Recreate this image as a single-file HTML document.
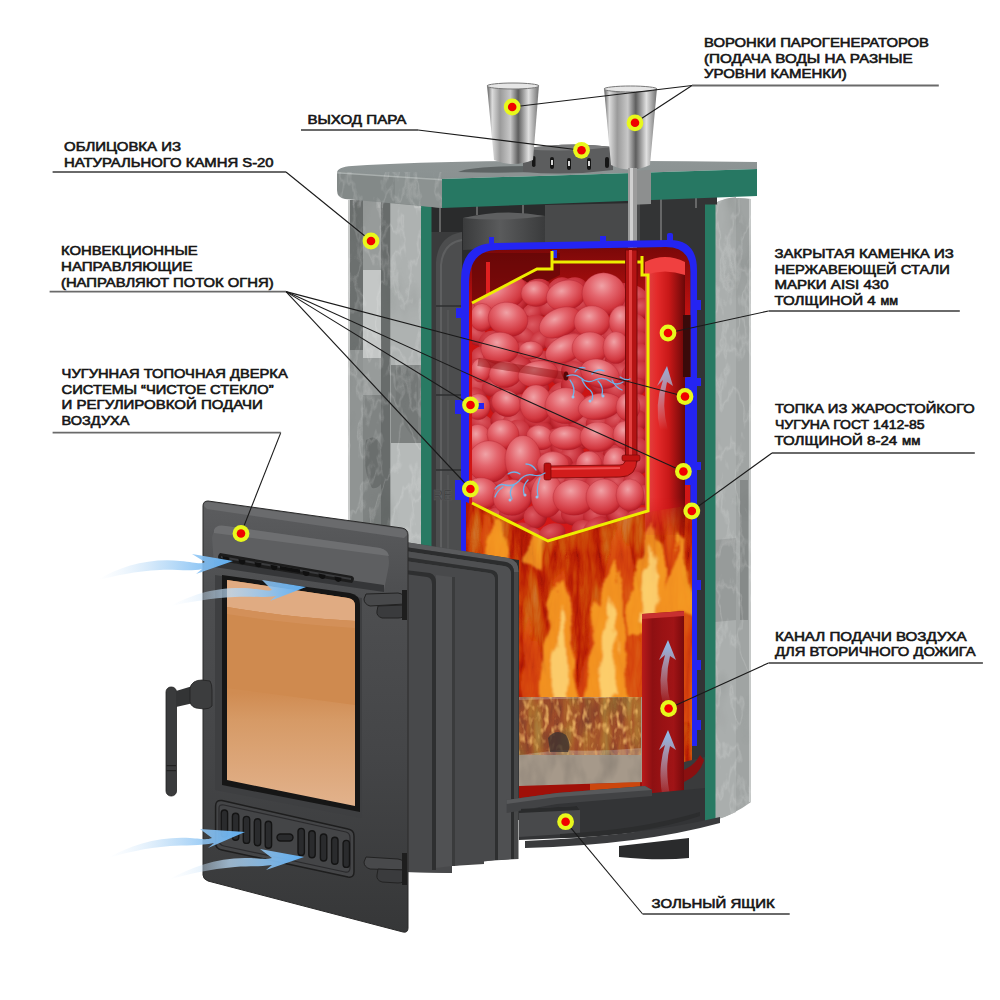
<!DOCTYPE html>
<html><head><meta charset="utf-8"><style>
html,body{margin:0;padding:0;background:#fff;width:1000px;height:1000px;overflow:hidden}
svg{display:block}
.t{font-family:"Liberation Sans",sans-serif;font-weight:normal;font-size:12.9px;fill:#151515;stroke:#151515;stroke-width:0.6px}
</style></head><body>
<svg width="1000" height="1000" viewBox="0 0 1000 1000">
<rect width="1000" height="1000" fill="#fff"/>

<defs>
 <filter id="fire" x="0" y="0" width="100%" height="100%" color-interpolation-filters="sRGB">
  <feTurbulence type="turbulence" baseFrequency="0.045 0.009" numOctaves="4" seed="11" result="n"/>
  <feColorMatrix in="n" type="matrix" values="1.4 0 0 0 0  1.4 0 0 0 0  1.4 0 0 0 0  0 0 0 0 1" result="g"/>
  <feComponentTransfer in="g">
   <feFuncR type="table" tableValues="0.58 0.8 0.93 0.98 1 1"/>
   <feFuncG type="table" tableValues="0.05 0.14 0.36 0.6 0.8 0.92"/>
   <feFuncB type="table" tableValues="0.02 0.02 0.03 0.08 0.25 0.5"/>
  </feComponentTransfer>
 </filter>
 <filter id="grain" x="0" y="0" width="100%" height="100%" color-interpolation-filters="sRGB">
  <feTurbulence type="fractalNoise" baseFrequency="0.04 0.02" numOctaves="3" seed="5"/>
  <feColorMatrix type="matrix" values="0 0 0 0 1  0 0 0 0 1  0 0 0 0 1  1.2 0 0 0 -0.45"/>
 </filter>
 <filter id="grainD" x="0" y="0" width="100%" height="100%" color-interpolation-filters="sRGB">
  <feTurbulence type="fractalNoise" baseFrequency="0.05 0.025" numOctaves="3" seed="9"/>
  <feColorMatrix type="matrix" values="0 0 0 0 0.2  0 0 0 0 0.2  0 0 0 0 0.2  1.4 0 0 0 -0.6"/>
 </filter>
 <filter id="veins" x="0" y="0" width="100%" height="100%" color-interpolation-filters="sRGB">
  <feTurbulence type="fractalNoise" baseFrequency="0.05 0.02" numOctaves="4" seed="21"/>
  <feColorMatrix type="matrix" values="0 0 0 0 1  0 0 0 0 1  0 0 0 0 1  1 0 0 0 0"/>
  <feComponentTransfer><feFuncA type="table" tableValues="0 0 0 0 0 0 0 0 0.85 0 0 0 0 0 0 0"/></feComponentTransfer>
 </filter>
 <filter id="patch" x="0" y="0" width="100%" height="100%" color-interpolation-filters="sRGB">
  <feTurbulence type="fractalNoise" baseFrequency="0.025 0.012" numOctaves="3" seed="8"/>
  <feColorMatrix type="matrix" values="0 0 0 0 0.3  0 0 0 0 0.32  0 0 0 0 0.31  1 0 0 0 0"/>
  <feComponentTransfer><feFuncA type="table" tableValues="0 0 0 0 0 0.15 0.45 0.55"/></feComponentTransfer>
 </filter>
 <filter id="wavy" filterUnits="userSpaceOnUse" x="440" y="470" width="280" height="350">
  <feTurbulence type="turbulence" baseFrequency="0.05 0.02" numOctaves="2" seed="3" result="t"/>
  <feDisplacementMap in="SourceGraphic" in2="t" scale="14" xChannelSelector="R" yChannelSelector="G" result="d"/>
  <feGaussianBlur in="d" stdDeviation="0.9"/>
 </filter>
 <filter id="logspots" x="0" y="0" width="100%" height="100%" color-interpolation-filters="sRGB">
  <feTurbulence type="fractalNoise" baseFrequency="0.18 0.09" numOctaves="2" seed="13"/>
  <feColorMatrix type="matrix" values="0 0 0 0 1  0 0 0 0 0.8  0 0 0 0 0.45  3 0 0 0 -1.5"/>
 </filter>
 <filter id="blur2" x="-10%" y="-10%" width="120%" height="120%"><feGaussianBlur stdDeviation="2.5"/></filter>
 <filter id="blur15" x="-10%" y="-10%" width="120%" height="120%"><feGaussianBlur stdDeviation="1.5"/></filter>
 <linearGradient id="slabTop" x1="0" x2="0" y1="0" y2="1">
  <stop offset="0" stop-color="#8e9595"/><stop offset="1" stop-color="#8a9191"/>
 </linearGradient>
 <linearGradient id="glass2" x1="0" x2="0" y1="0" y2="1">
  <stop offset="0" stop-color="#cf8a4f"/><stop offset="0.5" stop-color="#d08c52"/><stop offset="0.62" stop-color="#d69a66"/><stop offset="1" stop-color="#e2b28c"/>
 </linearGradient>
 <linearGradient id="glass" x1="0" x2="0" y1="0" y2="1">
  <stop offset="0" stop-color="#e2ad88"/><stop offset="0.1" stop-color="#e0a67c"/><stop offset="0.2" stop-color="#d08a52"/>
  <stop offset="0.52" stop-color="#cf8a4e"/><stop offset="0.62" stop-color="#dba070"/><stop offset="1" stop-color="#e2b28c"/>
 </linearGradient>
 <linearGradient id="funnel" x1="0" x2="1" y1="0" y2="0">
  <stop offset="0" stop-color="#5a5a5a"/><stop offset="0.1" stop-color="#dcdcdc"/><stop offset="0.25" stop-color="#9a9a9a"/>
  <stop offset="0.45" stop-color="#c8c8c8"/><stop offset="0.6" stop-color="#5e5e5e"/><stop offset="0.8" stop-color="#e0e0e0"/><stop offset="1" stop-color="#707070"/>
 </linearGradient>
 <linearGradient id="redch" x1="0" x2="1" y1="0" y2="0">
  <stop offset="0" stop-color="#b81a1a"/><stop offset="0.25" stop-color="#8e1012"/><stop offset="0.5" stop-color="#9a1214"/><stop offset="0.75" stop-color="#a01416"/><stop offset="1" stop-color="#780a0c"/>
 </linearGradient>
 <linearGradient id="pipeR" x1="0" x2="1" y1="0" y2="0">
  <stop offset="0" stop-color="#e04848"/><stop offset="0.3" stop-color="#e42a2a"/><stop offset="0.6" stop-color="#c81818"/><stop offset="1" stop-color="#6a0808"/>
 </linearGradient>
 <linearGradient id="arrow" x1="0" x2="1" y1="0" y2="0">
  <stop offset="0" stop-color="#dcecfb" stop-opacity="0"/><stop offset="0.45" stop-color="#b8daf7" stop-opacity="0.75"/><stop offset="1" stop-color="#5eaef2" stop-opacity="1"/>
 </linearGradient>
 <linearGradient id="arrowUp" x1="0" x2="0" y1="1" y2="0">
  <stop offset="0" stop-color="#dcecfb" stop-opacity="0"/><stop offset="1" stop-color="#8cc0f0" stop-opacity="1"/>
 </linearGradient>
 <radialGradient id="stone" cx="0.42" cy="0.32" r="0.7">
  <stop offset="0" stop-color="#f0a2a6"/><stop offset="0.4" stop-color="#e4666e"/><stop offset="0.8" stop-color="#d23840"/><stop offset="1" stop-color="#b41822"/>
 </radialGradient>
 <radialGradient id="stone2" cx="0.45" cy="0.35" r="0.7">
  <stop offset="0" stop-color="#dc5a62"/><stop offset="0.6" stop-color="#c8303a"/><stop offset="1" stop-color="#a01018"/>
 </radialGradient>
 <linearGradient id="redbg" x1="0" x2="0" y1="0" y2="1">
  <stop offset="0" stop-color="#7a0808"/><stop offset="0.25" stop-color="#c81212"/><stop offset="1" stop-color="#d41818"/>
 </linearGradient>
 <linearGradient id="tankL" x1="0" x2="1" y1="0" y2="0">
  <stop offset="0" stop-color="#2a2b2c"/><stop offset="0.5" stop-color="#4a4b4c"/><stop offset="1" stop-color="#333435"/>
 </linearGradient>
 <linearGradient id="lid" x1="0" x2="1" y1="0" y2="0">
  <stop offset="0" stop-color="#3a3b3c"/><stop offset="0.45" stop-color="#5a5b5c"/><stop offset="1" stop-color="#3a3b3c"/>
 </linearGradient>
 <linearGradient id="doorV" x1="0" x2="0" y1="0" y2="1">
  <stop offset="0" stop-color="#5c5d5f"/><stop offset="0.2" stop-color="#4e4f51"/><stop offset="0.6" stop-color="#444547"/><stop offset="1" stop-color="#363738"/>
 </linearGradient>
 <linearGradient id="doorG" x1="0" x2="1" y1="0" y2="1">
  <stop offset="0" stop-color="#46474a"/><stop offset="1" stop-color="#3c3d3f"/>
 </linearGradient>
 <clipPath id="flameClip"><path d="M466,502 L548,541 L654,511 L692,505 L692,800 L519,800 L519,560 L466,552 Z"/></clipPath>
 <linearGradient id="fadeDown" x1="0" x2="0" y1="0" y2="1"><stop offset="0" stop-color="#fff"/><stop offset="0.85" stop-color="#fff"/><stop offset="1" stop-color="#000"/></linearGradient>
 <mask id="pipeMask"><rect x="640" y="255" width="50" height="285" fill="url(#fadeDown)"/></mask>
 <clipPath id="basketClip"><path d="M472,303 L537,269 L552,269 L552,262 L648,262 L648,511 L548,541 L472,503 Z"/></clipPath>
 <clipPath id="tankClip"><path d="M469,282 Q469,250 496,250 L666,247 Q690.5,247 690.5,272 L690.5,540 L469,540 Z"/></clipPath>
</defs>

<!-- ===== right stone column ===== -->
<path d="M715,203 Q730,196 751,199 L751,802 Q735,814 715,820 Z" fill="#a0a4a3"/>
<path d="M715,203 Q725,198 736,197 L736,812 Q726,817 715,820 Z" fill="#aaaead"/>
<path d="M715,540 L736,538 L736,620 L715,622 Z" fill="#979b9a"/>
<path d="M740,480 L748,480 L748,620 L740,620 Z" fill="#868a89"/>
<rect x="749" y="199" width="2" height="603" fill="#c5c8c7"/>
<path d="M715,203 Q730,196 751,199 L751,802 Q735,814 715,820 Z" filter="url(#patch)" opacity="0.4"/>
<path d="M715,203 Q730,196 751,199 L751,802 Q735,814 715,820 Z" filter="url(#veins)" opacity="0.16"/>
<rect x="705" y="204" width="10.5" height="618" fill="#287a63"/>

<!-- ===== dark interior ===== -->
<rect x="431" y="195" width="274" height="625" fill="#2a2b2c"/>
<rect x="640" y="196" width="65" height="604" fill="#333435"/>
<rect x="705" y="195" width="12" height="9.5" fill="#333435"/>
<!-- mesh lines -->
<g stroke="#8a8a8a" stroke-width="1.2"><line x1="440" y1="207" x2="440" y2="238"/><line x1="477" y1="205" x2="477" y2="215"/><line x1="523" y1="205" x2="523" y2="215"/><line x1="661" y1="198" x2="661" y2="285"/><line x1="696" y1="198" x2="696" y2="208"/></g>
<!-- tank grey bodies -->
<path d="M431,232 L462,232 L462,552 L431,552 Z" fill="#3a3b3c"/>
<path d="M436,552 L436,262 Q438,236 462,232 L462,552 Z" fill="#4c4d4e"/>
<path d="M441,552 L441,265 Q443,243 462,240" fill="none" stroke="#5e5f60" stroke-width="2"/>
<g stroke="#2e2f30" stroke-width="1.5"><line x1="436" y1="306" x2="462" y2="306"/><line x1="436" y1="395" x2="462" y2="395"/><line x1="436" y1="470" x2="462" y2="470"/></g>
<g stroke="#5a5b5c" stroke-width="1.2"><line x1="448" y1="310" x2="448" y2="392"/><line x1="448" y1="400" x2="448" y2="466"/><line x1="448" y1="475" x2="448" y2="550"/></g>
<text x="433" y="500" font-family="Liberation Sans" font-size="14" fill="#3c3d3e" stroke="#5a5b5c" stroke-width="0.5">RE</text>
<path d="M545,205 L640,203 L640,246 L545,250 Z" fill="#48494a"/>
<path d="M463,218 Q504,210 545,216 L545,246 L463,250 Z" fill="url(#lid)"/>
<path d="M463,218 Q504,208 545,216 Q504,222 463,218 Z" fill="#5e5f60"/>

<!-- ===== left stone column ===== -->
<rect x="348" y="200" width="74" height="345" fill="#9a9e9d"/>
<rect x="348" y="200" width="2" height="345" fill="#c8cac9"/>
<rect x="350" y="200" width="13" height="345" fill="#6c706f"/>
<rect x="350" y="350" width="13" height="195" fill="#909493"/>
<rect x="363" y="200" width="18" height="345" fill="#979b9a"/>
<rect x="363" y="270" width="18" height="88" fill="#c4c7c6"/>
<rect x="363" y="395" width="27" height="150" fill="#7f8382"/>
<path d="M366,440 Q380,430 384,460 Q386,490 372,488 Q362,470 366,440 Z" fill="#6a6e6d"/>
<rect x="381" y="200" width="9" height="345" fill="#686c6b"/>
<rect x="391" y="200" width="30" height="345" fill="#aeb2b1"/>
<rect x="391" y="365" width="30" height="80" fill="#7c807f"/>
<path d="M395,370 Q405,360 418,372 L418,440 Q402,430 396,400 Z" fill="#747877"/>
<rect x="391" y="443" width="30" height="102" fill="#b6bab9"/>
<rect x="348" y="200" width="74" height="345" filter="url(#patch)" opacity="0.3"/>
<rect x="348" y="200" width="74" height="345" filter="url(#veins)" opacity="0.16"/>
<rect x="421" y="206" width="10.5" height="350" fill="#287a63"/>

<!-- ===== top slab ===== -->
<path d="M337,173 Q337,167 352,166 Q470,158 757,162 L757,169 L442,179 L337,176 Z" fill="url(#slabTop)"/>
<path d="M337,172 L442,179 L442,208 L345,199 Q337,198 337,190 Z" fill="#838988"/>
<path d="M395,176 L442,179 L442,208 L395,203 Z" fill="#8c9291"/>
<path d="M337,172 L442,179 L442,180.5 L337,173.5 Z" fill="#a9afae"/>
<path d="M337,172 L442,179 L442,208 L345,199 Q337,198 337,190 Z" filter="url(#veins)" opacity="0.16"/>
<path d="M442,179 L757,169 L757,196 L442,208 Z" fill="#277863"/>
<path d="M628,171 L651,170 L651,204 L628,205 Z" fill="#8d8f8f"/>
<!-- hole ring on top -->
<path d="M458,172 Q470,166 530,166 Q560,167 560,170 Q520,174 458,172 Z" fill="#5e6464"/>

<!-- ===== steam ring ===== -->
<path d="M523,149 Q568,141 613,147 L613,170 Q568,176 523,172 Z" fill="#5c5d5e"/>
<path d="M523,149 Q568,141 613,147 Q568,153 523,149 Z" fill="#7a7b7c"/>
<g fill="#161616"><rect x="532" y="156" width="3.5" height="11" rx="1.7"/><rect x="550" y="157" width="4" height="12" rx="2"/><rect x="567" y="158" width="4" height="12" rx="2"/><rect x="587" y="158" width="4" height="12" rx="2"/><rect x="605" y="157" width="4" height="11" rx="2"/></g>
<g fill="#d8d8d8"><rect x="551" y="160" width="2" height="5"/><rect x="568" y="161" width="2" height="5"/><rect x="588" y="161" width="2" height="5"/></g>

<!-- ===== funnels ===== -->
<path d="M487,85 L539,85 L533,160 Q513,168 494,160 Z" fill="url(#funnel)"/>
<ellipse cx="513" cy="86" rx="26" ry="3" fill="#e6e6e6" stroke="#777" stroke-width="1"/>
<path d="M604,88 L657,88 L650,165 Q630,174 611,165 Z" fill="url(#funnel)"/>
<ellipse cx="630.5" cy="89" rx="26.5" ry="3" fill="#e6e6e6" stroke="#777" stroke-width="1"/>
<rect x="628" y="168" width="9" height="84" fill="#9c9c9c"/>
<rect x="630" y="168" width="3" height="84" fill="#d0d0d0"/>

<!-- ===== tank ===== -->
<path d="M469,282 Q469,250 496,250 L666,247 Q690.5,247 690.5,272 L690.5,540 L469,540 Z" fill="url(#redbg)"/>
<g clip-path="url(#tankClip)">
 <path d="M472,253 L560,253 L560,275 L472,320 Z" fill="#5a0606" opacity="0.6"/>
 <rect x="486" y="262" width="4" height="60" fill="#e02020"/>
 <g clip-path="url(#basketClip)"><g fill="url(#stone2)">
<ellipse cx="477.0" cy="293.0" rx="13.2" ry="9.6" transform="rotate(-16 477.0 293.0)"/>
<ellipse cx="501.8" cy="287.4" rx="11.2" ry="11.5" transform="rotate(-18 501.8 287.4)"/>
<ellipse cx="518.4" cy="291.7" rx="12.7" ry="13.0" transform="rotate(-24 518.4 291.7)"/>
<ellipse cx="537.0" cy="289.0" rx="14.2" ry="10.1" transform="rotate(-12 537.0 289.0)"/>
<ellipse cx="561.0" cy="290.2" rx="13.8" ry="12.6" transform="rotate(-32 561.0 290.2)"/>
<ellipse cx="572.7" cy="289.3" rx="14.8" ry="11.5" transform="rotate(-21 572.7 289.3)"/>
<ellipse cx="596.0" cy="288.8" rx="13.3" ry="9.2" transform="rotate(16 596.0 288.8)"/>
<ellipse cx="622.8" cy="296.5" rx="14.7" ry="12.8" transform="rotate(-39 622.8 296.5)"/>
<ellipse cx="635.5" cy="296.7" rx="14.9" ry="10.6" transform="rotate(35 635.5 296.7)"/>
<ellipse cx="479.4" cy="311.2" rx="12.5" ry="9.8" transform="rotate(-4 479.4 311.2)"/>
<ellipse cx="493.6" cy="306.8" rx="15.8" ry="10.3" transform="rotate(-39 493.6 306.8)"/>
<ellipse cx="512.5" cy="304.7" rx="14.9" ry="10.5" transform="rotate(-17 512.5 304.7)"/>
<ellipse cx="533.2" cy="312.8" rx="13.1" ry="9.8" transform="rotate(-35 533.2 312.8)"/>
<ellipse cx="552.7" cy="304.7" rx="14.4" ry="9.6" transform="rotate(-37 552.7 304.7)"/>
<ellipse cx="577.9" cy="305.5" rx="16.0" ry="9.5" transform="rotate(2 577.9 305.5)"/>
<ellipse cx="601.3" cy="307.1" rx="15.9" ry="10.9" transform="rotate(-21 601.3 307.1)"/>
<ellipse cx="616.9" cy="303.4" rx="13.1" ry="10.0" transform="rotate(31 616.9 303.4)"/>
<ellipse cx="642.0" cy="308.0" rx="11.2" ry="10.0" transform="rotate(-21 642.0 308.0)"/>
<ellipse cx="474.5" cy="321.3" rx="15.3" ry="9.6" transform="rotate(-36 474.5 321.3)"/>
<ellipse cx="503.1" cy="324.7" rx="16.0" ry="10.6" transform="rotate(32 503.1 324.7)"/>
<ellipse cx="519.8" cy="326.9" rx="14.7" ry="11.0" transform="rotate(-33 519.8 326.9)"/>
<ellipse cx="534.5" cy="327.7" rx="15.5" ry="12.7" transform="rotate(-13 534.5 327.7)"/>
<ellipse cx="559.9" cy="327.0" rx="14.2" ry="12.3" transform="rotate(2 559.9 327.0)"/>
<ellipse cx="579.9" cy="325.9" rx="12.3" ry="12.7" transform="rotate(37 579.9 325.9)"/>
<ellipse cx="592.9" cy="328.7" rx="15.8" ry="11.7" transform="rotate(-36 592.9 328.7)"/>
<ellipse cx="622.8" cy="320.3" rx="15.8" ry="11.7" transform="rotate(-35 622.8 320.3)"/>
<ellipse cx="634.0" cy="325.4" rx="13.8" ry="12.0" transform="rotate(34 634.0 325.4)"/>
<ellipse cx="474.6" cy="335.0" rx="15.6" ry="9.1" transform="rotate(30 474.6 335.0)"/>
<ellipse cx="493.4" cy="343.1" rx="14.9" ry="12.5" transform="rotate(4 493.4 343.1)"/>
<ellipse cx="522.5" cy="337.0" rx="14.4" ry="10.3" transform="rotate(31 522.5 337.0)"/>
<ellipse cx="541.3" cy="339.7" rx="13.6" ry="9.1" transform="rotate(-37 541.3 339.7)"/>
<ellipse cx="559.1" cy="339.9" rx="15.3" ry="11.4" transform="rotate(-29 559.1 339.9)"/>
<ellipse cx="576.4" cy="342.7" rx="13.6" ry="9.0" transform="rotate(27 576.4 342.7)"/>
<ellipse cx="601.9" cy="335.9" rx="13.7" ry="10.5" transform="rotate(23 601.9 335.9)"/>
<ellipse cx="615.7" cy="337.3" rx="13.4" ry="12.9" transform="rotate(-32 615.7 337.3)"/>
<ellipse cx="633.4" cy="341.2" rx="15.4" ry="11.0" transform="rotate(-5 633.4 341.2)"/>
<ellipse cx="482.3" cy="358.8" rx="11.3" ry="12.5" transform="rotate(-24 482.3 358.8)"/>
<ellipse cx="495.6" cy="359.4" rx="13.1" ry="12.2" transform="rotate(-27 495.6 359.4)"/>
<ellipse cx="522.5" cy="352.8" rx="11.7" ry="11.0" transform="rotate(-13 522.5 352.8)"/>
<ellipse cx="538.5" cy="360.0" rx="14.6" ry="9.0" transform="rotate(-15 538.5 360.0)"/>
<ellipse cx="558.5" cy="355.9" rx="14.6" ry="10.9" transform="rotate(-34 558.5 355.9)"/>
<ellipse cx="574.9" cy="359.5" rx="12.8" ry="12.1" transform="rotate(39 574.9 359.5)"/>
<ellipse cx="599.5" cy="357.8" rx="14.0" ry="10.3" transform="rotate(33 599.5 357.8)"/>
<ellipse cx="617.6" cy="360.1" rx="12.5" ry="12.5" transform="rotate(23 617.6 360.1)"/>
<ellipse cx="639.4" cy="355.4" rx="11.7" ry="12.1" transform="rotate(-11 639.4 355.4)"/>
<ellipse cx="479.9" cy="368.3" rx="11.4" ry="9.6" transform="rotate(25 479.9 368.3)"/>
<ellipse cx="494.1" cy="376.0" rx="12.9" ry="11.3" transform="rotate(-12 494.1 376.0)"/>
<ellipse cx="519.4" cy="367.9" rx="13.0" ry="12.7" transform="rotate(-26 519.4 367.9)"/>
<ellipse cx="539.9" cy="370.3" rx="12.5" ry="9.1" transform="rotate(-38 539.9 370.3)"/>
<ellipse cx="563.4" cy="375.3" rx="15.0" ry="12.2" transform="rotate(36 563.4 375.3)"/>
<ellipse cx="573.9" cy="372.8" rx="13.5" ry="11.3" transform="rotate(35 573.9 372.8)"/>
<ellipse cx="601.1" cy="376.7" rx="11.6" ry="11.6" transform="rotate(14 601.1 376.7)"/>
<ellipse cx="620.9" cy="373.2" rx="15.2" ry="10.2" transform="rotate(34 620.9 373.2)"/>
<ellipse cx="636.9" cy="373.0" rx="15.5" ry="11.8" transform="rotate(-15 636.9 373.0)"/>
<ellipse cx="474.8" cy="386.3" rx="14.1" ry="13.0" transform="rotate(32 474.8 386.3)"/>
<ellipse cx="496.8" cy="387.0" rx="15.1" ry="10.1" transform="rotate(-7 496.8 387.0)"/>
<ellipse cx="512.2" cy="384.8" rx="13.7" ry="11.8" transform="rotate(9 512.2 384.8)"/>
<ellipse cx="536.4" cy="392.5" rx="14.1" ry="9.6" transform="rotate(-35 536.4 392.5)"/>
<ellipse cx="563.7" cy="392.9" rx="15.6" ry="11.4" transform="rotate(-15 563.7 392.9)"/>
<ellipse cx="573.1" cy="385.6" rx="12.1" ry="12.7" transform="rotate(31 573.1 385.6)"/>
<ellipse cx="601.3" cy="384.5" rx="12.2" ry="10.2" transform="rotate(36 601.3 384.5)"/>
<ellipse cx="614.0" cy="390.9" rx="14.4" ry="11.2" transform="rotate(37 614.0 390.9)"/>
<ellipse cx="635.1" cy="388.2" rx="11.8" ry="9.4" transform="rotate(-37 635.1 388.2)"/>
<ellipse cx="475.8" cy="400.2" rx="11.3" ry="13.0" transform="rotate(-17 475.8 400.2)"/>
<ellipse cx="502.7" cy="406.0" rx="14.7" ry="11.6" transform="rotate(36 502.7 406.0)"/>
<ellipse cx="522.5" cy="406.2" rx="13.8" ry="11.8" transform="rotate(18 522.5 406.2)"/>
<ellipse cx="538.6" cy="404.0" rx="11.8" ry="12.4" transform="rotate(-1 538.6 404.0)"/>
<ellipse cx="552.8" cy="400.7" rx="15.4" ry="10.0" transform="rotate(-9 552.8 400.7)"/>
<ellipse cx="580.2" cy="407.6" rx="12.6" ry="10.5" transform="rotate(-6 580.2 407.6)"/>
<ellipse cx="592.3" cy="407.8" rx="11.1" ry="12.8" transform="rotate(-28 592.3 407.8)"/>
<ellipse cx="613.9" cy="407.5" rx="15.1" ry="9.9" transform="rotate(4 613.9 407.5)"/>
<ellipse cx="637.7" cy="406.2" rx="11.9" ry="12.3" transform="rotate(40 637.7 406.2)"/>
<ellipse cx="480.5" cy="424.2" rx="15.7" ry="10.5" transform="rotate(28 480.5 424.2)"/>
<ellipse cx="502.0" cy="420.9" rx="11.5" ry="11.5" transform="rotate(33 502.0 420.9)"/>
<ellipse cx="515.7" cy="421.5" rx="15.5" ry="11.4" transform="rotate(-37 515.7 421.5)"/>
<ellipse cx="539.6" cy="417.6" rx="15.3" ry="11.6" transform="rotate(-15 539.6 417.6)"/>
<ellipse cx="562.7" cy="421.3" rx="12.7" ry="12.3" transform="rotate(31 562.7 421.3)"/>
<ellipse cx="582.7" cy="423.8" rx="14.3" ry="11.8" transform="rotate(8 582.7 423.8)"/>
<ellipse cx="598.3" cy="424.9" rx="12.8" ry="9.3" transform="rotate(17 598.3 424.9)"/>
<ellipse cx="618.0" cy="420.5" rx="14.0" ry="10.0" transform="rotate(-24 618.0 420.5)"/>
<ellipse cx="632.9" cy="422.8" rx="15.5" ry="11.8" transform="rotate(-31 632.9 422.8)"/>
<ellipse cx="483.7" cy="439.3" rx="13.5" ry="9.0" transform="rotate(28 483.7 439.3)"/>
<ellipse cx="499.5" cy="437.2" rx="11.1" ry="11.9" transform="rotate(-37 499.5 437.2)"/>
<ellipse cx="517.7" cy="432.4" rx="12.8" ry="12.6" transform="rotate(20 517.7 432.4)"/>
<ellipse cx="541.8" cy="434.0" rx="12.9" ry="11.4" transform="rotate(-37 541.8 434.0)"/>
<ellipse cx="556.9" cy="440.7" rx="14.8" ry="12.5" transform="rotate(-16 556.9 440.7)"/>
<ellipse cx="580.3" cy="438.9" rx="14.5" ry="10.7" transform="rotate(-26 580.3 438.9)"/>
<ellipse cx="592.2" cy="439.9" rx="15.7" ry="10.1" transform="rotate(20 592.2 439.9)"/>
<ellipse cx="616.9" cy="437.3" rx="15.2" ry="10.3" transform="rotate(10 616.9 437.3)"/>
<ellipse cx="635.1" cy="436.1" rx="11.2" ry="10.1" transform="rotate(-17 635.1 436.1)"/>
<ellipse cx="483.0" cy="448.3" rx="14.8" ry="9.3" transform="rotate(39 483.0 448.3)"/>
<ellipse cx="494.0" cy="447.9" rx="12.1" ry="12.7" transform="rotate(14 494.0 447.9)"/>
<ellipse cx="522.7" cy="452.0" rx="11.6" ry="10.4" transform="rotate(-4 522.7 452.0)"/>
<ellipse cx="543.9" cy="448.7" rx="12.2" ry="12.4" transform="rotate(-31 543.9 448.7)"/>
<ellipse cx="563.7" cy="450.0" rx="13.8" ry="11.6" transform="rotate(33 563.7 450.0)"/>
<ellipse cx="572.9" cy="455.5" rx="11.9" ry="11.9" transform="rotate(-38 572.9 455.5)"/>
<ellipse cx="601.2" cy="448.8" rx="12.0" ry="9.1" transform="rotate(-14 601.2 448.8)"/>
<ellipse cx="615.9" cy="456.8" rx="14.0" ry="10.5" transform="rotate(39 615.9 456.8)"/>
<ellipse cx="634.1" cy="449.1" rx="15.8" ry="12.8" transform="rotate(15 634.1 449.1)"/>
<ellipse cx="483.7" cy="463.6" rx="15.5" ry="11.8" transform="rotate(13 483.7 463.6)"/>
<ellipse cx="502.1" cy="464.0" rx="12.0" ry="9.6" transform="rotate(-2 502.1 464.0)"/>
<ellipse cx="518.6" cy="468.4" rx="12.8" ry="12.0" transform="rotate(27 518.6 468.4)"/>
<ellipse cx="541.1" cy="463.4" rx="11.8" ry="9.9" transform="rotate(-21 541.1 463.4)"/>
<ellipse cx="558.9" cy="464.9" rx="14.1" ry="10.4" transform="rotate(-11 558.9 464.9)"/>
<ellipse cx="580.5" cy="472.4" rx="12.0" ry="10.4" transform="rotate(39 580.5 472.4)"/>
<ellipse cx="594.6" cy="463.3" rx="12.0" ry="12.3" transform="rotate(19 594.6 463.3)"/>
<ellipse cx="623.3" cy="468.0" rx="11.2" ry="10.2" transform="rotate(18 623.3 468.0)"/>
<ellipse cx="636.7" cy="464.4" rx="12.9" ry="10.9" transform="rotate(-12 636.7 464.4)"/>
<ellipse cx="477.4" cy="480.4" rx="11.1" ry="12.1" transform="rotate(19 477.4 480.4)"/>
<ellipse cx="497.0" cy="480.1" rx="12.5" ry="11.2" transform="rotate(32 497.0 480.1)"/>
<ellipse cx="517.8" cy="488.7" rx="13.6" ry="9.7" transform="rotate(9 517.8 488.7)"/>
<ellipse cx="539.2" cy="485.0" rx="14.6" ry="9.1" transform="rotate(-5 539.2 485.0)"/>
<ellipse cx="561.6" cy="480.4" rx="11.2" ry="9.7" transform="rotate(-17 561.6 480.4)"/>
<ellipse cx="577.2" cy="482.1" rx="14.2" ry="9.7" transform="rotate(-12 577.2 482.1)"/>
<ellipse cx="600.1" cy="484.4" rx="15.8" ry="12.7" transform="rotate(-19 600.1 484.4)"/>
<ellipse cx="616.0" cy="484.4" rx="13.7" ry="10.5" transform="rotate(29 616.0 484.4)"/>
<ellipse cx="634.4" cy="483.7" rx="11.6" ry="12.5" transform="rotate(8 634.4 483.7)"/>
<ellipse cx="483.9" cy="496.4" rx="14.6" ry="11.4" transform="rotate(-36 483.9 496.4)"/>
<ellipse cx="501.8" cy="503.7" rx="11.4" ry="12.8" transform="rotate(23 501.8 503.7)"/>
<ellipse cx="519.3" cy="500.4" rx="12.3" ry="9.2" transform="rotate(-2 519.3 500.4)"/>
<ellipse cx="542.4" cy="497.1" rx="13.4" ry="10.1" transform="rotate(15 542.4 497.1)"/>
<ellipse cx="563.5" cy="503.9" rx="12.4" ry="10.7" transform="rotate(-40 563.5 503.9)"/>
<ellipse cx="578.4" cy="503.5" rx="15.2" ry="9.3" transform="rotate(-5 578.4 503.5)"/>
<ellipse cx="593.0" cy="499.2" rx="15.6" ry="10.1" transform="rotate(28 593.0 499.2)"/>
<ellipse cx="623.5" cy="503.2" rx="12.0" ry="12.7" transform="rotate(34 623.5 503.2)"/>
<ellipse cx="644.0" cy="495.1" rx="11.0" ry="10.2" transform="rotate(1 644.0 495.1)"/>
<ellipse cx="477.1" cy="511.9" rx="14.2" ry="11.7" transform="rotate(10 477.1 511.9)"/>
<ellipse cx="498.1" cy="516.5" rx="14.4" ry="9.3" transform="rotate(-5 498.1 516.5)"/>
<ellipse cx="513.6" cy="512.0" rx="14.8" ry="10.3" transform="rotate(-13 513.6 512.0)"/>
<ellipse cx="535.3" cy="516.9" rx="11.6" ry="11.6" transform="rotate(-34 535.3 516.9)"/>
<ellipse cx="563.5" cy="512.6" rx="14.8" ry="11.2" transform="rotate(-6 563.5 512.6)"/>
<ellipse cx="575.7" cy="514.6" rx="14.8" ry="11.1" transform="rotate(3 575.7 514.6)"/>
<ellipse cx="595.0" cy="517.2" rx="11.9" ry="10.9" transform="rotate(12 595.0 517.2)"/>
<ellipse cx="618.5" cy="516.8" rx="13.9" ry="9.8" transform="rotate(37 618.5 516.8)"/>
<ellipse cx="640.2" cy="518.3" rx="15.8" ry="10.8" transform="rotate(-13 640.2 518.3)"/>
<ellipse cx="475.6" cy="530.2" rx="12.5" ry="10.3" transform="rotate(-23 475.6 530.2)"/>
<ellipse cx="497.8" cy="529.9" rx="12.8" ry="11.7" transform="rotate(-15 497.8 529.9)"/>
<ellipse cx="522.4" cy="535.0" rx="12.6" ry="12.3" transform="rotate(-26 522.4 535.0)"/>
<ellipse cx="533.1" cy="536.9" rx="11.2" ry="9.0" transform="rotate(29 533.1 536.9)"/>
<ellipse cx="552.0" cy="533.6" rx="13.8" ry="9.9" transform="rotate(-20 552.0 533.6)"/>
<ellipse cx="583.6" cy="530.9" rx="12.2" ry="10.8" transform="rotate(19 583.6 530.9)"/>
<ellipse cx="595.5" cy="527.9" rx="15.0" ry="9.4" transform="rotate(-36 595.5 527.9)"/>
<ellipse cx="612.1" cy="536.9" rx="13.2" ry="11.9" transform="rotate(5 612.1 536.9)"/>
<ellipse cx="643.7" cy="530.4" rx="12.7" ry="11.7" transform="rotate(-40 643.7 530.4)"/>
</g><g fill="url(#stone)" stroke="#a82030" stroke-width="0.5" stroke-opacity="0.6">
<ellipse cx="500.0" cy="294.4" rx="28.0" ry="18.0" transform="rotate(-20 500.0 294.4)"/>
<ellipse cx="536.0" cy="293.6" rx="15.0" ry="13.0" transform="rotate(0 536.0 293.6)"/>
<ellipse cx="566.0" cy="295.4" rx="20.0" ry="15.0" transform="rotate(-15 566.0 295.4)"/>
<ellipse cx="604.0" cy="293.9" rx="22.0" ry="21.0" transform="rotate(10 604.0 293.9)"/>
<ellipse cx="482.0" cy="317.4" rx="12.0" ry="14.0" transform="rotate(0 482.0 317.4)"/>
<ellipse cx="508.0" cy="319.4" rx="20.0" ry="17.0" transform="rotate(15 508.0 319.4)"/>
<ellipse cx="560.0" cy="322.5" rx="22.0" ry="14.0" transform="rotate(-25 560.0 322.5)"/>
<ellipse cx="592.0" cy="321.8" rx="18.0" ry="16.0" transform="rotate(0 592.0 321.8)"/>
<ellipse cx="622.0" cy="321.6" rx="13.0" ry="16.0" transform="rotate(0 622.0 321.6)"/>
<ellipse cx="500.0" cy="348.3" rx="19.0" ry="16.0" transform="rotate(0 500.0 348.3)"/>
<ellipse cx="531.0" cy="350.2" rx="12.0" ry="9.0" transform="rotate(0 531.0 350.2)"/>
<ellipse cx="566.0" cy="348.7" rx="22.0" ry="13.0" transform="rotate(-25 566.0 348.7)"/>
<ellipse cx="590.0" cy="348.0" rx="18.0" ry="16.0" transform="rotate(0 590.0 348.0)"/>
<ellipse cx="616.0" cy="347.6" rx="13.0" ry="16.0" transform="rotate(0 616.0 347.6)"/>
<ellipse cx="481.0" cy="370.3" rx="10.0" ry="12.0" transform="rotate(0 481.0 370.3)"/>
<ellipse cx="505.0" cy="374.6" rx="16.0" ry="13.0" transform="rotate(0 505.0 374.6)"/>
<ellipse cx="538.0" cy="374.0" rx="20.0" ry="13.0" transform="rotate(-10 538.0 374.0)"/>
<ellipse cx="600.0" cy="373.8" rx="20.0" ry="14.0" transform="rotate(20 600.0 373.8)"/>
<ellipse cx="478.0" cy="406.8" rx="12.0" ry="13.0" transform="rotate(0 478.0 406.8)"/>
<ellipse cx="506.0" cy="403.2" rx="15.0" ry="13.0" transform="rotate(30 506.0 403.2)"/>
<ellipse cx="536.0" cy="403.9" rx="16.0" ry="19.0" transform="rotate(0 536.0 403.9)"/>
<ellipse cx="566.0" cy="405.8" rx="21.0" ry="18.0" transform="rotate(0 566.0 405.8)"/>
<ellipse cx="600.0" cy="406.4" rx="22.0" ry="13.0" transform="rotate(-10 600.0 406.4)"/>
<ellipse cx="628.0" cy="407.1" rx="12.0" ry="14.0" transform="rotate(0 628.0 407.1)"/>
<ellipse cx="478.0" cy="439.3" rx="13.0" ry="15.0" transform="rotate(0 478.0 439.3)"/>
<ellipse cx="503.0" cy="434.5" rx="16.0" ry="15.0" transform="rotate(0 503.0 434.5)"/>
<ellipse cx="540.0" cy="437.6" rx="14.0" ry="12.0" transform="rotate(20 540.0 437.6)"/>
<ellipse cx="567.0" cy="438.0" rx="18.0" ry="12.0" transform="rotate(0 567.0 438.0)"/>
<ellipse cx="598.0" cy="437.0" rx="18.0" ry="15.0" transform="rotate(0 598.0 437.0)"/>
<ellipse cx="625.0" cy="435.1" rx="12.0" ry="14.0" transform="rotate(0 625.0 435.1)"/>
<ellipse cx="489.0" cy="461.8" rx="21.0" ry="21.0" transform="rotate(0 489.0 461.8)"/>
<ellipse cx="523.0" cy="459.5" rx="18.0" ry="24.0" transform="rotate(0 523.0 459.5)"/>
<ellipse cx="553.0" cy="464.6" rx="16.0" ry="13.0" transform="rotate(0 553.0 464.6)"/>
<ellipse cx="589.0" cy="464.2" rx="13.0" ry="13.0" transform="rotate(0 589.0 464.2)"/>
<ellipse cx="616.0" cy="462.3" rx="13.0" ry="15.0" transform="rotate(0 616.0 462.3)"/>
<ellipse cx="481.0" cy="493.8" rx="18.0" ry="16.0" transform="rotate(0 481.0 493.8)"/>
<ellipse cx="512.0" cy="497.5" rx="19.0" ry="18.0" transform="rotate(0 512.0 497.5)"/>
<ellipse cx="547.0" cy="495.4" rx="16.0" ry="22.0" transform="rotate(0 547.0 495.4)"/>
<ellipse cx="574.0" cy="497.3" rx="21.0" ry="18.0" transform="rotate(0 574.0 497.3)"/>
<ellipse cx="604.0" cy="497.1" rx="18.0" ry="18.0" transform="rotate(0 604.0 497.1)"/>
<ellipse cx="630.0" cy="495.1" rx="14.0" ry="16.0" transform="rotate(0 630.0 495.1)"/>
</g></g>
</g>
<!-- blue outline -->
<path d="M461,552 L461,280 Q461,243 496,243 L668,240 Q697,239 697,270 L697,746 L690.5,746 L690.5,272 Q690.5,247 666,247 L496,250 Q469,251 469,284 L469,552 Z" fill="#2424f2"/>
<g fill="#2424f2">
 <rect x="455" y="400" width="8" height="14"/><rect x="456" y="308" width="7" height="10"/><rect x="470" y="403" width="14" height="6"/>
 <rect x="455" y="480" width="8" height="20"/>
 <rect x="489" y="237" width="5" height="10"/><rect x="600" y="236" width="6" height="10"/><rect x="667" y="233" width="6" height="10" rx="2"/><rect x="552" y="250" width="5" height="8"/>
 <rect x="696" y="300" width="5" height="10"/><rect x="696" y="378" width="5" height="8"/><rect x="696" y="462" width="5" height="8"/><path d="M684,380 Q684,377 688,377 L691,377 L691,485 L684,485 Z"/><rect x="678" y="465" width="12" height="14"/><rect x="696" y="580" width="5" height="10"/><rect x="696" y="660" width="5" height="10"/><rect x="696" y="720" width="5" height="10"/>
</g>
<!-- flames -->
<g clip-path="url(#flameClip)">
 <rect x="460" y="500" width="240" height="300" fill="#a81804"/>
 <rect x="460" y="500" width="240" height="300" filter="url(#fire)" opacity="0.45"/>
 <g filter="url(#wavy)">
  <g fill="#e2520e" opacity="0.6">
   <path d="M519,720 C515,680 525,640 520,600 C530,630 540,650 538,680 C548,640 545,600 560,560 C570,610 575,650 570,690 C585,650 590,610 600,570 C612,620 615,660 610,700 Z"/>
   <path d="M595,720 C592,680 605,630 600,590 C596,560 610,540 612,515 C635,560 640,600 636,640 C645,600 650,560 668,520 C690,570 690,640 692,720 Z"/>
   <path d="M466,600 C470,570 482,545 478,510 C500,530 512,560 515,600 Z"/>
  </g>
  <g fill="#ffb42a" opacity="0.7">
   <path d="M535,705 C530,670 545,640 545,610 C545,595 552,585 560,575 C568,610 572,640 568,670 C572,690 575,700 575,705 Z"/>
   <path d="M582,705 C578,670 592,630 595,600 C598,580 605,570 610,555 C620,590 625,630 620,670 C622,690 625,700 625,705 Z"/>
   <path d="M625,630 C622,600 636,570 640,545 C642,530 648,522 652,515 C662,550 666,590 660,630 Z"/>
   <path d="M660,610 C660,580 672,560 676,530 C688,560 692,590 690,610 Z"/>
   <path d="M478,560 C480,540 490,525 488,508 C502,528 506,545 502,565 Z"/>
   <path d="M519,560 C520,545 530,535 532,520 C540,540 540,555 536,570 Z"/>
  </g>
  <g fill="#ffe48a" opacity="0.7">
   <path d="M548,700 C546,670 552,640 557,600 C563,635 564,670 560,700 Z"/>
   <path d="M597,700 C595,665 602,630 608,590 C614,630 614,665 610,700 Z"/>
   <path d="M638,620 C637,590 643,565 648,540 C654,570 654,600 650,620 Z"/>
  </g>
 </g>
</g>
<!-- right red pipe -->
<path d="M645,262 L685,262 L685,535 L645,535 Z" fill="url(#pipeR)" mask="url(#pipeMask)"/>
<path d="M645,262 Q665,252 685,262 L685,275 Q665,268 645,275 Z" fill="#f04040"/>

<rect x="683" y="315" width="7.5" height="62" fill="#3a0a0a"/>
<!-- up arrow in pipe -->
<path d="M660,430 Q654,405 663,380 L657,386 L667,366 L673,386 L667,382 Q661,405 668,430 Z" fill="url(#arrowUp)" opacity="0.9"/>
<!-- yellow lines -->
<path d="M472,303 L537,269 L552,269 L552,251 M552,262 L642,262 M642,256 L642,275 L648,275 L648,511 L548,541 L472,503" fill="none" stroke="#eeee00" stroke-width="3"/>
<!-- rod -->
<rect x="625.5" y="250" width="11.5" height="212" fill="#b41414" stroke="#6a0606" stroke-width="0.8"/>
<rect x="629" y="250" width="3" height="212" fill="#e24040"/>
<path d="M637,458 Q637,477 620,477 L548,478 L548,466 L620,465 Q625.5,465 625.5,458 Z" fill="#d21c1c" stroke="#7a0808" stroke-width="0.8"/>
<path d="M548,469 L620,468" stroke="#ee5050" stroke-width="2"/>
<rect x="544" y="463" width="7" height="17" rx="2" fill="#b80e0e" stroke="#6a0606" stroke-width="0.6"/>
<rect x="622" y="455" width="18" height="6" rx="2" fill="#c01212" stroke="#6a0606" stroke-width="0.6"/>
<path d="M478,362 L566,376" stroke="#8a0c0c" stroke-width="8" opacity="0.45"/>
<ellipse cx="566" cy="376" rx="2.5" ry="4.5" fill="#5a0606"/>
<!-- water splashes -->
<g stroke="#6ab8f0" stroke-width="1.3" fill="none" opacity="0.95" stroke-linecap="round">
 <path d="M567,376 q8,-3 14,2 q6,6 14,2 q8,-4 16,2 q6,4 12,0"/>
 <path d="M570,380 q6,8 3,16 M582,380 q4,8 8,10 q4,4 2,10 M598,381 q6,6 4,14 M612,380 q4,8 10,10 M620,377 q6,4 10,2"/>
 <path d="M575,372 q4,-6 10,-4 M592,374 q5,-6 12,-3"/>
 <path d="M545,473 q-6,4 -12,2 q-8,-2 -14,6 q-6,6 -14,4 q-6,-2 -10,4"/>
 <path d="M540,478 q-4,10 -2,18 M528,480 q-6,6 -4,14 M514,485 q-6,6 -2,14 M503,487 q-6,4 -8,10"/>
 <path d="M536,470 q-4,-6 -10,-6 M520,474 q-6,-4 -12,0"/>
</g>
<g fill="#8ccaf5" opacity="0.9"><circle cx="573" cy="397" r="1.5"/><circle cx="590" cy="401" r="1.5"/><circle cx="603" cy="396" r="1.5"/><circle cx="537" cy="497" r="1.5"/><circle cx="510" cy="500" r="1.5"/><circle cx="525" cy="495" r="1.5"/></g>

<!-- ===== firebox bottom ===== -->
<!-- logs -->
<rect x="519" y="697" width="123" height="92" fill="#a6998a"/>
<path d="M519,700 L641,697 L641,748 Q600,752 560,750 L519,755 Z" fill="#8a5c3a"/>
<path d="M519,700 L641,697 L641,748 Q600,752 560,750 L519,755 Z" filter="url(#fire)" opacity="0.3"/>
<path d="M519,700 L641,697 L641,748 Q600,752 560,750 L519,755 Z" filter="url(#grainD)" opacity="0.55"/>
<path d="M519,700 L641,697 L641,748 Q600,752 560,750 L519,755 Z" filter="url(#logspots)" opacity="0.8"/>
<path d="M548,738 Q556,728 566,735 Q572,745 568,752 L550,752 Z" fill="#3a3030" opacity="0.75"/>
<path d="M519,752 Q580,748 641,755 L641,782 L519,786 Z" filter="url(#grainD)" opacity="0.35"/>
<!-- red floor -->
<path d="M519,786 L645,782 L650,790 L519,800 Z" fill="#a01008"/>
<path d="M590,784 L640,782 L640,790 L590,792 Z" fill="#e86a10" opacity="0.6"/>
<!-- red channel -->
<path d="M642,614 L684,611 L684,812 L642,815 Z" fill="url(#redch)"/>
<path d="M642,614 L684,611 L684,616 L642,619 Z" fill="#c83030"/>
<path d="M663,705 Q657,680 665,655 L659,660 L668,640 L676,660 L670,656 Q664,680 671,705 Z" fill="url(#arrowUp)"/>
<path d="M663,800 Q657,770 665,745 L659,750 L668,730 L676,750 L670,746 Q664,770 671,800 Z" fill="url(#arrowUp)"/>
<!-- right inner skirt -->
<path d="M684,762 L705,757 L705,800 L684,806 Z" fill="#3a3b3c"/>
<path d="M684,770 Q695,765 700,755 L704,760 Q700,775 684,782 Z" fill="#8a1010"/>
<!-- back floor -->
<path d="M519,806 L684,790 L705,788 L705,822 Q640,836 519,840 Z" fill="#333436"/>
<!-- grate -->
<path d="M506.6,800 L557,793 L645,786 L652,790 L652,796 L557,804 L506.6,813 Z" fill="#424345"/>
<path d="M506.6,800 L557,793 L645,786 L652,790 L557,797 L506.6,804 Z" fill="#58595b"/>
<!-- ash box -->
<path d="M519,809 L577,806 L580,810 L580,833 L519,837 Z" fill="#48494b"/>
<path d="M519,809 L577,806 L580,810 L519,813 Z" fill="#2a2b2c"/>
<!-- base ring -->
<path d="M525,841 Q640,836 720,817 L720,823 Q640,845 525,848 Z" fill="#3a3b3d"/>
<path d="M560,834 Q640,830 700,812 L700,816 Q640,836 560,838 Z" fill="#2c2d2e"/>
<!-- legs -->
<path d="M619,846 L689,838 L689,858 Q660,861 619,857 Z" fill="#2a2b2c"/>

<!-- ===== door tunnel box ===== -->
<path d="M405,542 L508,558 Q518.5,560 518.5,572 L518.5,859 L484,861 L484,864 L452,866 L452,873 L405,872 Z" fill="#474849"/>
<path d="M405,542 L508,558 Q518.5,560 518.5,572 L514,572 Q514,564 506,562 L405,547 Z" fill="#5a5b5d"/>
<path d="M405,547 L506,562 Q514,564 514,572 L514,859 L511,859 L511,574 Q511,567 504,566 L405,551 Z" fill="#2c2d2e"/>
<path d="M405,551 L504,566 Q511,567 511,574 L511,859 L498,860 L498,578 Q498,571 492,570 L405,557 Z" fill="#4f5052"/>
<path d="M405,557 L492,570 Q498,571 498,578 L498,860 L495,860 L495,580 Q495,574 489,573 L405,561 Z" fill="#2e2f30"/>
<path d="M405,561 L489,573 Q495,574 495,580 L495,860 L452,866 L452,873 L405,872 Z" fill="#48494b"/>
<path d="M405,570 L430,573 Q436,575 436,582 L436,870 L432,870 L432,584 Q432,578 427,577 L405,574 Z" fill="#2e2f30"/>
<path d="M436,575 L452,577 L452,866 L436,868 Z" fill="#505153"/>
<path d="M452,577 L455,577 L455,866 L452,866 Z" fill="#3a3b3c"/>
<path d="M506.6,800 L521,798 L521,810.5 L506.6,813 Z" fill="#424345"/>
<path d="M506.6,800 L521,798 L521,802 L506.6,804 Z" fill="#58595b"/>
<!-- ===== door ===== -->
<path d="M203,506 Q203,501 208,501 L402,528 Q408,529 408,535 L408,928 Q408,933 403,932 L208,881 Q203,879 203,875 Z" fill="url(#doorV)" stroke="#2a2a2a" stroke-width="1"/>
<path d="M204,506 Q204,502 208,502 L402,529 Q407,530 407,535 L404,538 L207,509 Z" fill="#6a6b6d"/>
<!-- header bevel -->
<path d="M212,538 Q214,524 226,526 L380,548 Q392,552 388,570 L384,590 L214,565 Z" fill="#5e5f61"/>
<path d="M214,530 Q216,524 226,526 L380,548 Q388,550 389,556 L214,533 Z" fill="#6e6f71"/>
<path d="M214,560 L384,585 L384,592 L214,567 Z" fill="#353638"/>
<!-- vent slot bar -->
<path d="M220,553 L352,576 Q356,578 352,583 L220,561 Q216,557 220,553 Z" fill="#1c1c1c"/>
<path d="M221,556 L351,578 L351,580 L221,558 Z" fill="#3a3b3d"/>
<g fill="#101010">
<path d="M222.5,556.1 L229.5,557.4 L229.0,560.4 Q226,563.1 223.0,559.3 Z"/>
<path d="M238.5,559.0 L245.5,560.3 L245.0,563.3 Q242,566.0 239.0,562.2 Z"/>
<path d="M254.5,561.9 L261.5,563.2 L261.0,566.2 Q258,568.9 255.0,565.1 Z"/>
<path d="M270.5,564.8 L277.5,566.1 L277.0,569.1 Q274,571.8 271.0,568.0 Z"/>
<path d="M302.5,570.7 L309.5,572.0 L309.0,575.0 Q306,577.7 303.0,573.9 Z"/>
<path d="M318.5,573.6 L325.5,574.9 L325.0,577.9 Q322,580.6 319.0,576.8 Z"/>
<path d="M334.5,576.5 L341.5,577.8 L341.0,580.8 Q338,583.5 335.0,579.7 Z"/>
<path d="M280,566 L300,569.5 L300,573 L280,569.5 Z"/>
</g>
<!-- glass frame -->
<path d="M215,575 L362,598 L362,818 L215,790 Z" fill="#3e3f41"/>
<path d="M222,575 L350,593 Q360,595 360,604 L360,812 L222,785 Z" fill="#161616"/>
<path d="M227,580 L348,598 Q355,599 355,606 L355,806 L227,780 Z" fill="url(#glass2)"/>
<path d="M227,580 L348,598 Q355,599 355,606 L355,621 Q290,618 227,607 Z" fill="#e0ab82"/>
<path d="M227,607 Q290,618 355,621 L355,705 L227,688 Z" fill="#cf8a4f"/>
<path d="M227,607 Q290,618 355,621 L355,628 Q290,624 227,614 Z" fill="#d69560" opacity="0.6"/>
<!-- lower vent panel -->
<path d="M215.6,806 Q215.6,799.6 222,800.6 L348,829 Q354,830 354,836 L354,872 Q354,878 348,877 L222,850 Q215.6,849 215.6,843 Z" fill="#444547" stroke="#1e1e1e" stroke-width="1.5"/>
<path d="M219,808 Q219,804 224,805 L346,832 Q350,833 350,838 L350,868 Q350,873 345,872 L224,846 Q219,845 219,840 Z" fill="none" stroke="#2a2a2c" stroke-width="1.2"/>
<g fill="#2a2b2d" stroke="#141414" stroke-width="1.4">
<rect x="221.2" y="810.0" width="6.4" height="27" rx="3.2"/>
<rect x="232.4" y="813.2" width="6.4" height="27" rx="3.2"/>
<rect x="243.3" y="816.4" width="6.4" height="27" rx="3.2"/>
<rect x="254.3" y="818.8" width="6.4" height="27" rx="3.2"/>
<rect x="265.2" y="821.2" width="6.4" height="27" rx="3.2"/>
<rect x="298.0" y="828.4" width="6.4" height="27" rx="3.2"/>
<rect x="308.8" y="830.8" width="6.4" height="27" rx="3.2"/>
<rect x="320.4" y="834.0" width="6.4" height="27" rx="3.2"/>
<rect x="331.6" y="837.2" width="6.4" height="27" rx="3.2"/>
<rect x="343.1" y="840.4" width="6.4" height="27" rx="3.2"/>
<rect x="277" y="834" width="16" height="7" rx="3.5"/>
</g>
<!-- handle -->
<rect x="166" y="687" width="10.5" height="109" rx="5" fill="#3a3b3c" stroke="#222" stroke-width="0.8"/>
<rect x="166.5" y="765" width="9.5" height="1.2" fill="#222"/><rect x="166.5" y="770" width="9.5" height="1.2" fill="#222"/>
<path d="M176,691 L196,685 L198,702 L176,707 Z" fill="#333435"/>
<path d="M190,688 Q192,680 202,680 L210,681 Q212,684 212,690 L212,706 Q210,709 204,709 L196,708 Q189,706 190,698 Z" fill="#3c3d3e" stroke="#222" stroke-width="0.8"/>
<!-- hinges -->
<path d="M366,594 L398,593 Q405,594 405,600 L405,604 L370,606 Q364,604 364,599 Z" fill="#48494b" stroke="#222" stroke-width="1"/>
<path d="M378,606 L404,605 L405,614 Q404,618 398,618 L382,618 Q376,616 377,611 Z" fill="#3a3b3d" stroke="#222" stroke-width="1"/>
<rect x="402" y="590" width="5" height="30" fill="#1e1e1e"/>
<path d="M366,857 L398,859 Q405,860 405,866 L405,870 L370,869 Q364,867 364,862 Z" fill="#48494b" stroke="#222" stroke-width="1"/>
<path d="M378,869 L404,870 L405,879 Q404,883 398,883 L382,882 Q376,880 377,875 Z" fill="#3a3b3d" stroke="#222" stroke-width="1"/>
<rect x="402" y="853" width="5" height="32" fill="#1e1e1e"/>

<!-- ===== air arrows ===== -->
<path d="M98,580 C120,566 150,558 180,561 C195,562 200,565 205,562 L192,554 L233,561 L196,574 L202,569 C190,572 175,569 160,570 C135,571 115,576 98,580 Z" fill="url(#arrow)"/>
<path d="M170,606 C190,596 210,588 240,588 C258,588 265,592 272,590 L262,580 L306,587 L270,601 L276,596 C262,598 250,596 235,597 C210,598 190,602 170,606 Z" fill="url(#arrow)"/>
<path d="M108,858 C130,845 160,836 190,838 C203,839 206,840 212,838 L200,829 L245,832 L208,848 L214,843 C200,846 185,845 170,846 C145,848 125,853 108,858 Z" fill="url(#arrow)"/>
<path d="M168,880 C190,868 215,858 245,858 C260,858 265,860 272,858 L260,849 L304,857 L266,870 L272,865 C258,867 248,866 235,867 C210,869 188,874 168,880 Z" fill="url(#arrow)"/>

<line x1="286" y1="172" x2="371" y2="241" stroke="#1a1a1a" stroke-width="1.1"/>
<line x1="286" y1="291.6" x2="470.5" y2="405" stroke="#1a1a1a" stroke-width="1.1"/>
<line x1="286" y1="291.6" x2="470.4" y2="489" stroke="#1a1a1a" stroke-width="1.1"/>
<line x1="286" y1="291.6" x2="683.4" y2="471.5" stroke="#1a1a1a" stroke-width="1.1"/>
<line x1="286" y1="291.6" x2="685" y2="396.5" stroke="#1a1a1a" stroke-width="1.1"/>
<line x1="280.8" y1="432.6" x2="241" y2="533.5" stroke="#1a1a1a" stroke-width="1.1"/>
<line x1="418" y1="130" x2="581.5" y2="150.3" stroke="#1a1a1a" stroke-width="1.1"/>
<line x1="692" y1="85.5" x2="512.2" y2="107" stroke="#1a1a1a" stroke-width="1.1"/>
<line x1="692" y1="85.5" x2="635" y2="122.8" stroke="#1a1a1a" stroke-width="1.1"/>
<line x1="768.5" y1="311" x2="668" y2="333" stroke="#1a1a1a" stroke-width="1.1"/>
<line x1="772" y1="453" x2="691.8" y2="511" stroke="#1a1a1a" stroke-width="1.1"/>
<line x1="768.5" y1="663" x2="668.6" y2="708.5" stroke="#1a1a1a" stroke-width="1.1"/>
<line x1="642.6" y1="914" x2="565.6" y2="821.7" stroke="#1a1a1a" stroke-width="1.1"/>
<line x1="52.6" y1="172" x2="286" y2="172" stroke="#6a6a6a" stroke-width="1.8"/>
<line x1="49.6" y1="291.6" x2="286" y2="291.6" stroke="#6a6a6a" stroke-width="1.8"/>
<line x1="52.6" y1="432.6" x2="280.8" y2="432.6" stroke="#6a6a6a" stroke-width="1.8"/>
<line x1="301" y1="130" x2="418" y2="130" stroke="#6a6a6a" stroke-width="1.8"/>
<line x1="692" y1="85.5" x2="938.8" y2="85.5" stroke="#6a6a6a" stroke-width="1.8"/>
<line x1="768.5" y1="311" x2="959.8" y2="311" stroke="#6a6a6a" stroke-width="1.8"/>
<line x1="772" y1="453" x2="974.8" y2="453" stroke="#6a6a6a" stroke-width="1.8"/>
<line x1="768.5" y1="663" x2="982.9" y2="663" stroke="#6a6a6a" stroke-width="1.8"/>
<line x1="642.6" y1="914" x2="789.7" y2="914" stroke="#6a6a6a" stroke-width="1.8"/>
<circle cx="371" cy="241" r="8.4" fill="#e8f81c"/><circle cx="371" cy="241" r="4.3" fill="#f00000"/>
<circle cx="470.5" cy="405" r="8.4" fill="#e8f81c"/><circle cx="470.5" cy="405" r="4.3" fill="#f00000"/>
<circle cx="470.4" cy="489" r="8.4" fill="#e8f81c"/><circle cx="470.4" cy="489" r="4.3" fill="#f00000"/>
<circle cx="683.4" cy="471.5" r="8.4" fill="#e8f81c"/><circle cx="683.4" cy="471.5" r="4.3" fill="#f00000"/>
<circle cx="685" cy="396.5" r="8.4" fill="#e8f81c"/><circle cx="685" cy="396.5" r="4.3" fill="#f00000"/>
<circle cx="241" cy="533.5" r="8.4" fill="#e8f81c"/><circle cx="241" cy="533.5" r="4.3" fill="#f00000"/>
<circle cx="581.5" cy="150.3" r="8.4" fill="#e8f81c"/><circle cx="581.5" cy="150.3" r="4.3" fill="#f00000"/>
<circle cx="512.2" cy="107" r="8.4" fill="#e8f81c"/><circle cx="512.2" cy="107" r="4.3" fill="#f00000"/>
<circle cx="635" cy="122.8" r="8.4" fill="#e8f81c"/><circle cx="635" cy="122.8" r="4.3" fill="#f00000"/>
<circle cx="668" cy="333" r="8.4" fill="#e8f81c"/><circle cx="668" cy="333" r="4.3" fill="#f00000"/>
<circle cx="691.8" cy="511" r="8.4" fill="#e8f81c"/><circle cx="691.8" cy="511" r="4.3" fill="#f00000"/>
<circle cx="668.6" cy="708.5" r="8.4" fill="#e8f81c"/><circle cx="668.6" cy="708.5" r="4.3" fill="#f00000"/>
<circle cx="565.6" cy="821.7" r="8.4" fill="#e8f81c"/><circle cx="565.6" cy="821.7" r="4.3" fill="#f00000"/>
<text class="t" x="64" y="151.0" textLength="117.0" lengthAdjust="spacingAndGlyphs">ОБЛИЦОВКА ИЗ</text>
<text class="t" x="64" y="166.9" textLength="209.6" lengthAdjust="spacingAndGlyphs">НАТУРАЛЬНОГО КАМНЯ S-20</text>
<text class="t" x="61" y="254.9" textLength="136.7" lengthAdjust="spacingAndGlyphs">КОНВЕКЦИОННЫЕ</text>
<text class="t" x="61" y="270.9" textLength="131.5" lengthAdjust="spacingAndGlyphs">НАПРАВЛЯЮЩИЕ</text>
<text class="t" x="61" y="287.09999999999997" textLength="212.6" lengthAdjust="spacingAndGlyphs">(НАПРАВЛЯЮТ ПОТОК ОГНЯ)</text>
<text class="t" x="61.6" y="377.9" textLength="226.1" lengthAdjust="spacingAndGlyphs">ЧУГУННАЯ ТОПОЧНАЯ ДВЕРКА</text>
<text class="t" x="61.6" y="393.79999999999995" textLength="212.0" lengthAdjust="spacingAndGlyphs">СИСТЕМЫ “ЧИСТОЕ СТЕКЛО”</text>
<text class="t" x="61.6" y="409.4" textLength="201.2" lengthAdjust="spacingAndGlyphs">И РЕГУЛИРОВКОЙ ПОДАЧИ</text>
<text class="t" x="61.6" y="425.4" textLength="67.9" lengthAdjust="spacingAndGlyphs">ВОЗДУХА</text>
<text class="t" x="307.4" y="123.80000000000001" textLength="99.0" lengthAdjust="spacingAndGlyphs">ВЫХОД ПАРА</text>
<text class="t" x="704" y="47.0" textLength="225.0" lengthAdjust="spacingAndGlyphs">ВОРОНКИ ПАРОГЕНЕРАТОРОВ</text>
<text class="t" x="704" y="62.9" textLength="208.7" lengthAdjust="spacingAndGlyphs">(ПОДАЧА ВОДЫ НА РАЗНЫЕ</text>
<text class="t" x="704" y="78.4" textLength="142.7" lengthAdjust="spacingAndGlyphs">УРОВНИ КАМЕНКИ)</text>
<text class="t" x="774.5" y="257.9" textLength="179.2" lengthAdjust="spacingAndGlyphs">ЗАКРЫТАЯ КАМЕНКА ИЗ</text>
<text class="t" x="774.5" y="273.79999999999995" textLength="175.3" lengthAdjust="spacingAndGlyphs">НЕРЖАВЕЮЩЕЙ СТАЛИ</text>
<text class="t" x="774.5" y="289.4" textLength="114.1" lengthAdjust="spacingAndGlyphs">МАРКИ AISI 430</text>
<text class="t" x="774.5" y="305.09999999999997" textLength="101.1" lengthAdjust="spacingAndGlyphs">ТОЛЩИНОЙ 4</text>
<text class="t" x="880.4" y="305.09999999999997" textLength="17.6" lengthAdjust="spacingAndGlyphs">мм</text>
<text class="t" x="775" y="413.4" textLength="199.8" lengthAdjust="spacingAndGlyphs">ТОПКА ИЗ ЖАРОСТОЙКОГО</text>
<text class="t" x="775" y="429.4" textLength="149.6" lengthAdjust="spacingAndGlyphs">ЧУГУНА ГОСТ 1412-85</text>
<text class="t" x="774.5" y="445.2" textLength="122.7" lengthAdjust="spacingAndGlyphs">ТОЛЩИНОЙ 8-24</text>
<text class="t" x="902" y="445.2" textLength="18.4" lengthAdjust="spacingAndGlyphs">мм</text>
<text class="t" x="775" y="640.9" textLength="191.7" lengthAdjust="spacingAndGlyphs">КАНАЛ ПОДАЧИ ВОЗДУХА</text>
<text class="t" x="775" y="656.4" textLength="200.7" lengthAdjust="spacingAndGlyphs">ДЛЯ ВТОРИЧНОГО ДОЖИГА</text>
<text class="t" x="651.6" y="907.9" textLength="123.1" lengthAdjust="spacingAndGlyphs">ЗОЛЬНЫЙ ЯЩИК</text>
</svg></body></html>
